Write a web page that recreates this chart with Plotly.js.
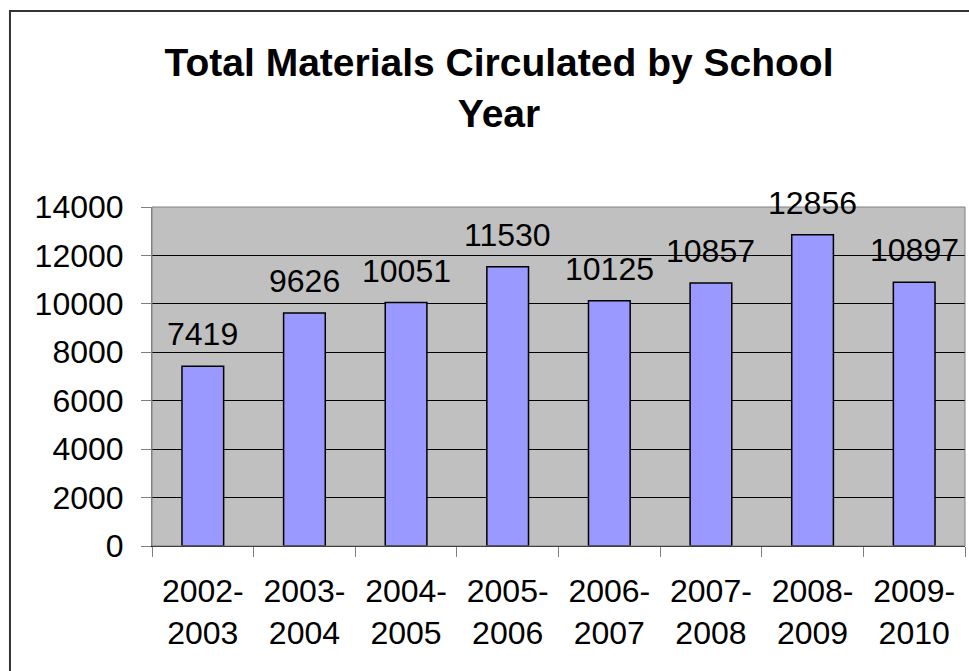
<!DOCTYPE html>
<html>
<head>
<meta charset="utf-8">
<script src="https://cdn.plot.ly/plotly-3.0.1.min.js"></script>
<style>
html,body{margin:0;padding:0;background:#fff;}
#chart{width:969px;height:671px;}
</style>
</head>
<body>
<div id="chart"></div>
<script>
const categories = ["2002-<br>2003","2003-<br>2004","2004-<br>2005","2005-<br>2006","2006-<br>2007","2007-<br>2008","2008-<br>2009","2009-<br>2010"];
const values = [7419, 9626, 10051, 11530, 10125, 10857, 12856, 10897];
const yTicks = [0, 2000, 4000, 6000, 8000, 10000, 12000, 14000];
const titleText = "Total Materials Circulated by School<br>Year";

const FONT = "Liberation Sans, Arial, sans-serif";

const trace = {
  type: "bar",
  x: categories,
  y: values,
  marker: {color: "#9999ff", line: {color: "#000000", width: 1.5}},
  hoverinfo: "x+y"
};

const annotations = categories.map((c, i) => ({
  x: c, y: values[i], xref: "x", yref: "y",
  text: String(values[i]), showarrow: false,
  yanchor: "bottom", yshift: 12,
  font: {family: FONT, size: 32, color: "#000"}
}));

const layout = {
  width: 969, height: 671,
  margin: {l: 152, r: 4, t: 207, b: 125},
  paper_bgcolor: "#ffffff",
  plot_bgcolor: "#c0c0c0",
  showlegend: false,
  bargap: 0.59,
  title: {
    text: titleText,
    font: {family: FONT, size: 39, color: "#000", weight: "bold"},
    xref: "container", x: 0.515, xanchor: "center",
    yref: "container", y: 0.886, yanchor: "top"
  },
  xaxis: {
    type: "category",
    tickson: "boundaries",
    ticks: "outside", ticklen: 10, tickcolor: "#808080", tickwidth: 1,
    showline: true, linecolor: "#000000", linewidth: 1,
    showgrid: false,
    tickfont: {family: FONT, size: 32, color: "#000"},
    ticklabelstandoff: 17,
    fixedrange: true
  },
  yaxis: {
    range: [0, 14000],
    tickvals: yTicks,
    ticktext: yTicks.map(String),
    ticks: "outside", ticklen: 10, tickcolor: "#808080", tickwidth: 1,
    showline: true, linecolor: "#808080", linewidth: 1,
    showgrid: true, gridcolor: "#000000", gridwidth: 1,
    zeroline: false,
    tickfont: {family: FONT, size: 32, color: "#000"},
    ticklabelstandoff: 11,
    fixedrange: true
  },
  annotations: annotations,
  shapes: [
    {type: "rect", xref: "paper", yref: "paper", x0: 0, x1: 1, y0: 0, y1: 1,
     line: {color: "#808080", width: 1}, layer: "above"},
    {type: "rect", xref: "paper", yref: "paper",
     x0: -0.1747, x1: 1.2, y0: -0.5, y1: 1.578,
     line: {color: "#333333", width: 2}, layer: "above"}
  ]
};

Plotly.newPlot("chart", [trace], layout, {displayModeBar: false, staticPlot: true});
</script>
</body>
</html>
